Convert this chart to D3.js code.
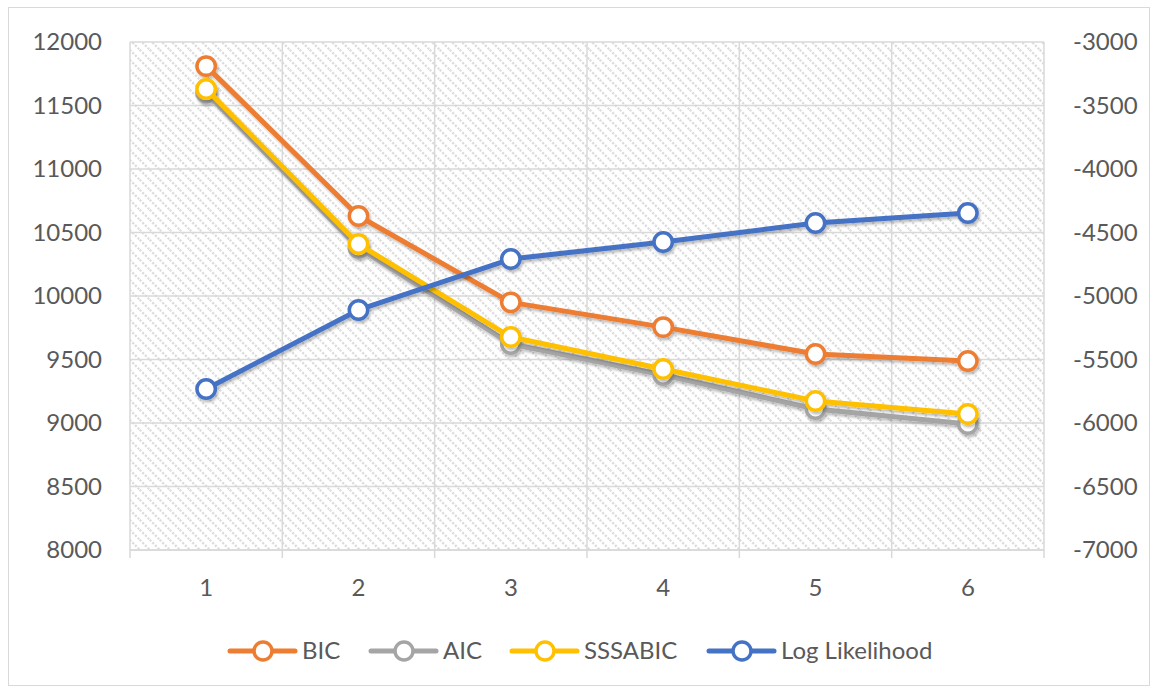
<!DOCTYPE html>
<html>
<head>
<meta charset="utf-8">
<script src="https://cdn.jsdelivr.net/npm/d3@7"></script>
<style>
  html, body { margin: 0; padding: 0; background: #fff; }
  svg { display: block; font-family: Lato, "Open Sans", sans-serif; }
</style>
</head>
<body>
<svg id="chart" width="1157" height="692"></svg>
<script>
// Number of latent classes
const classes = [1, 2, 3, 4, 5, 6];

// Information criteria (left axis)
const bic     = [11810, 10630, 9950, 9755, 9543, 9488];
const aic     = [11600, 10378, 9622, 9378, 9110, 8992];
const sssabic = [11630, 10409, 9677, 9425, 9173, 9071];

// Log likelihood (right axis)
const logLik  = [-5732, -5110, -4709, -4575, -4425, -4346];

const leftTicks  = [8000, 8500, 9000, 9500, 10000, 10500, 11000, 11500, 12000];
const rightTicks = [-7000, -6500, -6000, -5500, -5000, -4500, -4000, -3500, -3000];

const series = [
  { name: "BIC",            values: bic,     color: "#ED7D31", axis: "left"  },
  { name: "AIC",            values: aic,     color: "#A5A5A5", axis: "left"  },
  { name: "SSSABIC",        values: sssabic, color: "#FFC000", axis: "left"  },
  { name: "Log Likelihood", values: logLik,  color: "#4472C4", axis: "right" }
];

const svg = d3.select("#chart");
const W = 1157, H = 692;
const plot = { left: 130, right: 1044, top: 42, bottom: 550 };
const fontSize = "24px";
const textColor = "#595959";

// Outer chart frame
svg.append("rect")
  .attr("x", 8.5).attr("y", 7.5)
  .attr("width", W - 16).attr("height", H - 14)
  .attr("fill", "#fff").attr("stroke", "#d9d9d9").attr("stroke-width", 1);

// Dotted diagonal hatch fill for the plot area
const defs = svg.append("defs");
const pat = defs.append("pattern")
  .attr("id", "hatch")
  .attr("patternUnits", "userSpaceOnUse")
  .attr("width", 10).attr("height", 10);
pat.append("rect").attr("width", 10).attr("height", 10).attr("fill", "#fff");
pat.append("path")
  .attr("d", "M-3,-3 L13,13 M-3,7 L3,13 M7,-3 L13,3")
  .attr("stroke", "#dcdcdc").attr("stroke-width", 2.2)
  .attr("stroke-dasharray", "2.2,1.6");

const x = d3.scaleBand().domain(classes).range([plot.left, plot.right]).padding(0);
const yL = d3.scaleLinear().domain([8000, 12000]).range([plot.bottom, plot.top]);
const yR = d3.scaleLinear().domain([-7000, -3000]).range([plot.bottom, plot.top]);

svg.append("rect")
  .attr("x", plot.left).attr("y", plot.top)
  .attr("width", plot.right - plot.left).attr("height", plot.bottom - plot.top)
  .attr("fill", "url(#hatch)");

// Gridlines
const grid = svg.append("g").attr("stroke", "#d9d9d9").attr("stroke-width", 1.5);
leftTicks.forEach(t => {
  grid.append("line")
    .attr("x1", plot.left).attr("x2", plot.right)
    .attr("y1", yL(t)).attr("y2", yL(t));
});
const bounds = classes.map(c => x(c)).concat([plot.right]);
bounds.forEach(b => {
  grid.append("line")
    .attr("x1", b).attr("x2", b)
    .attr("y1", plot.top).attr("y2", plot.bottom + 8);
});

// Axes
const plain = d => String(d);
const leftAxis = svg.append("g")
  .attr("transform", `translate(${plot.left},0)`)
  .call(d3.axisLeft(yL).tickValues(leftTicks).tickSize(0).tickPadding(28).tickFormat(plain));
const rightAxis = svg.append("g")
  .attr("transform", `translate(${plot.right},0)`)
  .call(d3.axisRight(yR).tickValues(rightTicks).tickSize(0).tickPadding(29).tickFormat(plain));
const bottomAxis = svg.append("g")
  .attr("transform", `translate(0,${plot.bottom})`)
  .call(d3.axisBottom(x).tickSize(0).tickPadding(38).tickFormat(plain));
[leftAxis, rightAxis, bottomAxis].forEach(a => {
  a.select(".domain").remove();
  a.selectAll("text")
    .attr("fill", textColor)
    .style("font-size", fontSize)
    .style("font-family", "Lato, 'Open Sans', sans-serif");
});
bottomAxis.selectAll("text").attr("dy", "0.32em");
svg.append("line")
  .attr("x1", plot.left).attr("x2", plot.right)
  .attr("y1", plot.bottom).attr("y2", plot.bottom)
  .attr("stroke", "#d9d9d9").attr("stroke-width", 1.5);

// Soft shadow under the series
const shadow = defs.append("filter").attr("id", "shadow")
  .attr("x", "-10%").attr("y", "-10%").attr("width", "120%").attr("height", "120%");
shadow.append("feDropShadow")
  .attr("dx", 1.5).attr("dy", 2.5).attr("stdDeviation", 1.2)
  .attr("flood-color", "#000").attr("flood-opacity", 0.25);

const cx = c => x(c) + x.bandwidth() / 2;

series.forEach(s => {
  const y = s.axis === "left" ? yL : yR;
  const g = svg.append("g").attr("filter", "url(#shadow)");
  const line = d3.line().x((d, i) => cx(classes[i])).y(d => y(d));
  g.append("path")
    .datum(s.values)
    .attr("d", line)
    .attr("fill", "none")
    .attr("stroke", s.color)
    .attr("stroke-width", 5)
    .attr("stroke-linejoin", "round")
    .attr("stroke-linecap", "round");
  g.selectAll("circle")
    .data(s.values)
    .join("circle")
    .attr("cx", (d, i) => cx(classes[i]))
    .attr("cy", d => y(d))
    .attr("r", 9.2)
    .attr("fill", "#fff")
    .attr("stroke", s.color)
    .attr("stroke-width", 3.5);
});

// Legend
const legendY = 651;
const legendX = [230, 371, 512, 709];
const legend = svg.append("g");
series.forEach((s, i) => {
  const g = legend.append("g").attr("transform", `translate(${legendX[i]},${legendY})`);
  g.append("line")
    .attr("x1", 0).attr("x2", 65).attr("y1", 0).attr("y2", 0)
    .attr("stroke", s.color).attr("stroke-width", 5).attr("stroke-linecap", "round");
  g.append("circle")
    .attr("cx", 33).attr("cy", 0).attr("r", 9)
    .attr("fill", "#fff").attr("stroke", s.color).attr("stroke-width", 3.5);
  g.append("text")
    .attr("x", 72).attr("y", 0).attr("dy", "0.35em")
    .attr("fill", textColor)
    .style("font-size", fontSize)
    .text(s.name);
});
</script>
</body>
</html>
